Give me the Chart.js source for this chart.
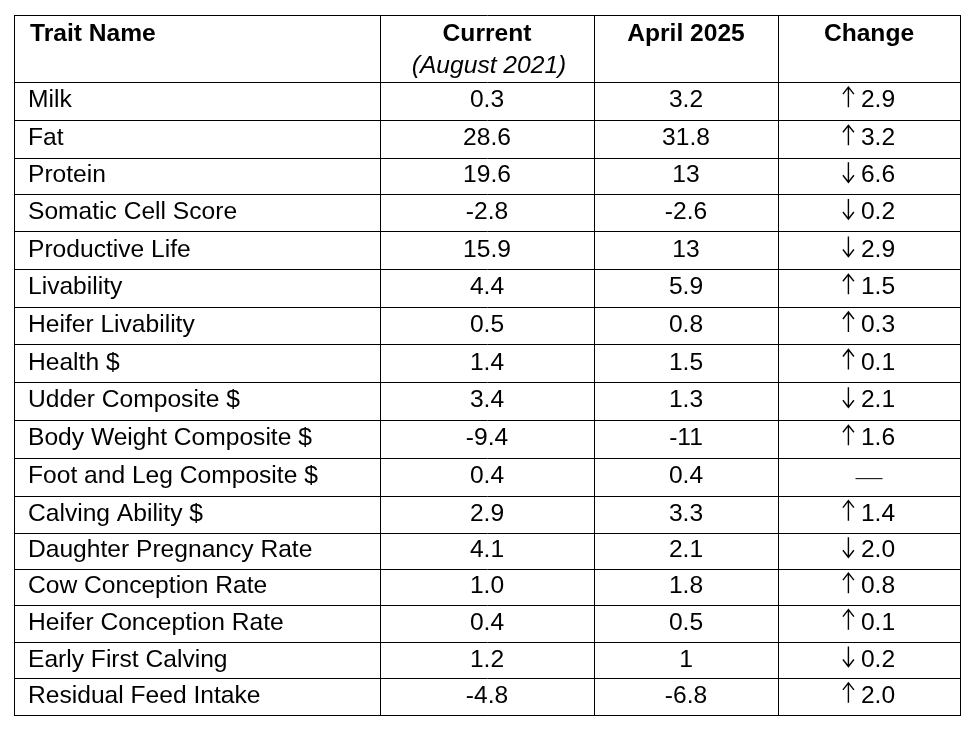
<!DOCTYPE html>
<html>
<head>
<meta charset="utf-8">
<title>Trait changes</title>
<script src="https://cdn.jsdelivr.net/npm/chart.js@4.4.1/dist/chart.umd.min.js"></script>
<style>
  html, body { margin: 0; padding: 0; background: #fff; }
  #wrap { width: 976px; height: 729px; }
</style>
</head>
<body>
<div id="wrap"><canvas id="tableChart" width="976" height="729"></canvas></div>
<script>
// Table content
const headers = ['Trait Name', 'Current', 'April 2025', 'Change'];
const headerSub = ['', '(August 2021)', '', ''];
const traits = [
  'Milk', 'Fat', 'Protein', 'Somatic Cell Score', 'Productive Life', 'Livability',
  'Heifer Livability', 'Health $', 'Udder Composite $', 'Body Weight Composite $',
  'Foot and Leg Composite $', 'Calving Ability $', 'Daughter Pregnancy Rate',
  'Cow Conception Rate', 'Heifer Conception Rate', 'Early First Calving', 'Residual Feed Intake'
];
const currentVals = ['0.3', '28.6', '19.6', '-2.8', '15.9', '4.4', '0.5', '1.4', '3.4', '-9.4', '0.4', '2.9', '4.1', '1.0', '0.4', '1.2', '-4.8'];
const aprilVals = ['3.2', '31.8', '13', '-2.6', '13', '5.9', '0.8', '1.5', '1.3', '-11', '0.4', '3.3', '2.1', '1.8', '0.5', '1', '-6.8'];
const changeDir = ['up', 'up', 'down', 'down', 'down', 'up', 'up', 'up', 'down', 'up', 'none', 'up', 'down', 'up', 'up', 'down', 'up'];
const changeAmt = ['2.9', '3.2', '6.6', '0.2', '2.9', '1.5', '0.3', '0.1', '2.1', '1.6', '', '1.4', '2.0', '0.8', '0.1', '0.2', '2.0'];

// layout: column widths and row heights in px (header row first)
const colWidths = [366, 214, 184, 182];
const rowHeights = [67, 38.3, 38, 36, 37.4, 37.6, 38, 37.4, 37.6, 38, 38, 37.7, 37.3, 36, 35.7, 37.3, 36.4, 36.3];
const FONT = '"Liberation Sans", Arial, sans-serif';
const SIZE = 24.6;

const colEdges = [0];
colWidths.forEach(w => colEdges.push(colEdges[colEdges.length - 1] + w));
const rowEdges = [0];
rowHeights.forEach(h => rowEdges.push(rowEdges[rowEdges.length - 1] + h));
const colCenter = c => (colEdges[c] + colEdges[c + 1]) / 2;
const rowCenter = r => (rowEdges[r] + rowEdges[r + 1]) / 2; // r = 0 is the header

function columnPoints(c){
  return traits.map((t, i) => ({ x: c === 0 ? colEdges[0] : colCenter(c), y: rowCenter(i + 1) }));
}

const datasets = [
  { kind: 'text', labels: traits, data: columnPoints(0), align: 'left', dx: 14, dy: 6, font: SIZE + 'px ' + FONT },
  { kind: 'text', labels: currentVals, data: columnPoints(1), align: 'center', dx: 0, dy: 6, font: SIZE + 'px ' + FONT },
  { kind: 'text', labels: aprilVals, data: columnPoints(2), align: 'center', dx: 0, dy: 6, font: SIZE + 'px ' + FONT },
  { kind: 'change', labels: changeAmt, dirs: changeDir, data: columnPoints(3), dx: 0, dy: 6, font: SIZE + 'px ' + FONT },
  { kind: 'text', labels: headers, data: headers.map((h, c) => ({ x: c === 0 ? colEdges[0] : colCenter(c), y: rowEdges[0] })), align: 'first-left', dx: 16, dy: 25.5, font: 'bold ' + SIZE + 'px ' + FONT },
  { kind: 'text', labels: headerSub, data: headerSub.map((h, c) => ({ x: colCenter(c) + 2, y: rowEdges[0] })), align: 'center', dx: 0, dy: 58.3, font: 'italic ' + SIZE + 'px ' + FONT }
].map(ds => Object.assign(ds, { type: 'scatter', pointRadius: 0, pointHoverRadius: 0, borderWidth: 0 }));

function drawArrow(ctx, cx, base, dir){
  const h = 20, head = 7, half = 5.5;
  ctx.beginPath();
  ctx.moveTo(cx, base);
  ctx.lineTo(cx, base - h);
  if (dir === 'up'){
    ctx.moveTo(cx - half, base - h + head);
    ctx.lineTo(cx, base - h);
    ctx.lineTo(cx + half, base - h + head);
  } else {
    ctx.moveTo(cx - half, base - head);
    ctx.lineTo(cx, base);
    ctx.lineTo(cx + half, base - head);
  }
  ctx.stroke();
}

// draws the cell content at each point placed by the scales
const cellText = {
  id: 'cellText',
  afterDatasetsDraw(chart){
    const ctx = chart.ctx;
    ctx.save();
    ctx.fillStyle = '#000';
    ctx.strokeStyle = '#000';
    ctx.lineWidth = 1.4;
    ctx.textBaseline = 'alphabetic';
    chart.data.datasets.forEach((ds, di) => {
      const meta = chart.getDatasetMeta(di);
      ctx.font = ds.font;
      meta.data.forEach((pt, j) => {
        const base = pt.y + ds.dy;
        if (ds.kind === 'change'){
          const dir = ds.dirs[j];
          if (dir === 'none'){
            ctx.beginPath();
            ctx.moveTo(pt.x - 13.5, pt.y + 1.5);
            ctx.lineTo(pt.x + 13.5, pt.y + 1.5);
            ctx.lineWidth = 1;
            ctx.stroke();
            ctx.lineWidth = 1.4;
            return;
          }
          const arrowW = 11, gap = 7;
          const tw = ctx.measureText(ds.labels[j]).width;
          const left = pt.x - (arrowW + gap + tw) / 2;
          drawArrow(ctx, left + arrowW / 2, base, dir);
          ctx.textAlign = 'left';
          ctx.fillText(ds.labels[j], left + arrowW + gap, base);
          return;
        }
        const label = ds.labels[j];
        if (!label) return;
        let align = ds.align;
        if (align === 'first-left') align = j === 0 ? 'left' : 'center';
        ctx.textAlign = align;
        const dx = align === 'left' ? ds.dx : 0;
        ctx.fillText(label, pt.x + dx, base);
      });
    });
    ctx.restore();
  }
};

new Chart(document.getElementById('tableChart'), {
  type: 'scatter',
  data: { datasets },
  options: {
    responsive: false,
    animation: false,
    events: [],
    layout: { padding: { left: 14, top: 15, right: 16, bottom: 14 } },
    plugins: { legend: { display: false }, tooltip: { enabled: false } },
    scales: {
      x: {
        type: 'linear', min: colEdges[0], max: colEdges[colEdges.length - 1],
        afterBuildTicks: axis => { axis.ticks = colEdges.map(v => ({ value: v })); },
        ticks: { display: false },
        grid: { color: '#000', lineWidth: 1, drawTicks: false },
        border: { display: true, color: '#000', width: 1 }
      },
      y: {
        type: 'linear', reverse: true, min: rowEdges[0], max: rowEdges[rowEdges.length - 1],
        afterBuildTicks: axis => { axis.ticks = rowEdges.map(v => ({ value: v })); },
        ticks: { display: false },
        grid: { color: '#000', lineWidth: 1, drawTicks: false },
        border: { display: true, color: '#000', width: 1 }
      }
    }
  },
  plugins: [cellText]
});
</script>
</body>
</html>
